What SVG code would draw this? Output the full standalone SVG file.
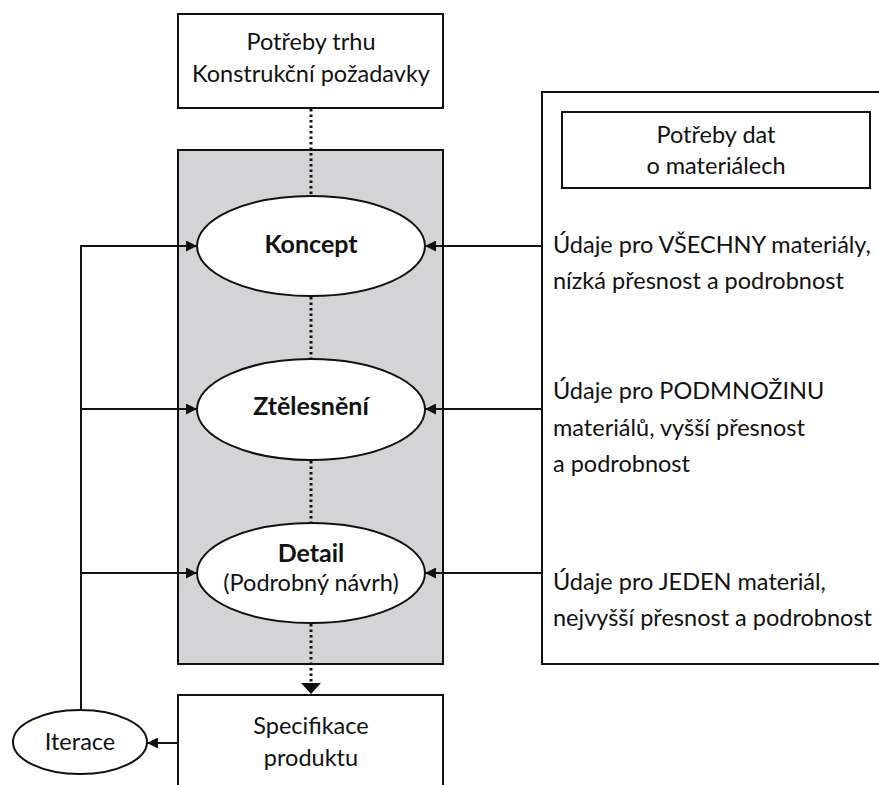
<svg xmlns="http://www.w3.org/2000/svg" width="879" height="785" viewBox="0 0 879 785">
  <style>
    .box { fill: #ffffff; stroke: #111111; stroke-width: 2; }
    .stage { fill: #ffffff; stroke: #111111; stroke-width: 2; }
    .panel { fill: #d4d4d6; stroke: #111111; stroke-width: 2; }
    .txt { font-family: Lato, "Open Sans", "Liberation Sans", sans-serif; font-size: 23.5px; fill: #111111; }
    .mid { text-anchor: middle; }
    .bold { font-weight: bold; font-size: 25px; }
    .link { fill: none; stroke: #111111; stroke-width: 2; }
    .dots { fill: none; stroke: #111111; stroke-width: 3; stroke-dasharray: 2.5 3; }
  </style>
  <defs>
    <marker id="arrow" markerUnits="userSpaceOnUse" markerWidth="11" markerHeight="11" refX="11" refY="5.5" orient="auto">
      <path d="M0,0 L11,5.5 L0,11 z" fill="#111111"/>
    </marker>
  </defs>

  <rect width="879" height="785" fill="#ffffff"/>

  <!-- shaded design-stage panel -->
  <g id="design-panel">
    <rect class="panel" x="178" y="150" width="265" height="514"/>
  </g>

  <!-- right-hand data-needs panel -->
  <g id="data-panel">
    <rect class="box" x="542" y="92" width="360" height="572"/>
  </g>

  <!-- connectors -->
  <g id="connectors">
    <line class="dots" x1="311" y1="109" x2="311" y2="196"/>
    <line class="dots" x1="311" y1="297" x2="311" y2="359"/>
    <line class="dots" x1="311" y1="461" x2="311" y2="523"/>
    <line class="dots" x1="311" y1="624" x2="311" y2="683"/>
    <path d="M301,683 L321,683 L311,694 z" fill="#111111"/>

    <path class="link" d="M81,710 V246 H197" marker-end="url(#arrow)"/>
    <path class="link" d="M81,409 H197" marker-end="url(#arrow)"/>
    <path class="link" d="M81,573 H197" marker-end="url(#arrow)"/>

    <path class="link" d="M542,246 H425" marker-end="url(#arrow)"/>
    <path class="link" d="M542,409 H425" marker-end="url(#arrow)"/>
    <path class="link" d="M542,573 H425" marker-end="url(#arrow)"/>

    <path class="link" d="M178,743 H147" marker-end="url(#arrow)"/>
  </g>

  <g id="market-needs">
    <rect class="box" x="178" y="14" width="265" height="94"/>
    <text class="txt mid" x="311" y="50">Potřeby trhu</text>
    <text class="txt mid" x="311" y="82">Konstrukční požadavky</text>
  </g>

  <g id="concept">
    <ellipse class="stage" cx="311" cy="246" rx="114" ry="50"/>
    <text class="txt mid bold" x="311" y="253">Koncept</text>
  </g>

  <g id="embodiment">
    <ellipse class="stage" cx="311" cy="409.5" rx="114" ry="50.5"/>
    <text class="txt mid bold" x="311" y="415">Ztělesnění</text>
  </g>

  <g id="detail">
    <ellipse class="stage" cx="311" cy="573" rx="114" ry="50"/>
    <text class="txt mid bold" x="311" y="562">Detail</text>
    <text class="txt mid" x="311" y="591">(Podrobný návrh)</text>
  </g>

  <g id="product-spec">
    <rect class="box" x="178" y="695" width="265" height="110"/>
    <text class="txt mid" x="311" y="734">Specifikace</text>
    <text class="txt mid" x="311" y="766">produktu</text>
  </g>

  <g id="iteration">
    <ellipse class="stage" cx="80" cy="742" rx="67" ry="32"/>
    <text class="txt mid" x="80" y="750">Iterace</text>
  </g>

  <g id="material-data-needs">
    <rect class="box" x="562" y="112" width="308" height="76"/>
    <text class="txt mid" x="716" y="143">Potřeby dat</text>
    <text class="txt mid" x="716" y="174">o materiálech</text>
  </g>

  <g id="data-all">
    <text class="txt" x="553" y="253">Údaje pro VŠECHNY materiály,</text>
    <text class="txt" x="553" y="289">nízká přesnost a podrobnost</text>
  </g>

  <g id="data-subset">
    <text class="txt" x="553" y="399">Údaje pro PODMNOŽINU</text>
    <text class="txt" x="553" y="436">materiálů, vyšší přesnost</text>
    <text class="txt" x="553" y="472">a podrobnost</text>
  </g>

  <g id="data-single">
    <text class="txt" x="553" y="590">Údaje pro JEDEN materiál,</text>
    <text class="txt" x="553" y="626">nejvyšší přesnost a podrobnost</text>
  </g>
</svg>
